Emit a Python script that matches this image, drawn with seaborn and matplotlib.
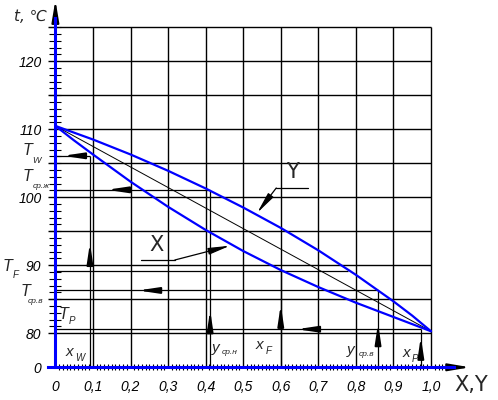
import matplotlib
matplotlib.use("Agg")
import matplotlib.pyplot as plt
from matplotlib.ticker import FixedLocator
import numpy as np
import pandas as pd
import seaborn as sns

# ------------------------- data ------------------------- #
# boiling curve X (liquid) and dew curve Y (vapour), t in degrees C
x_liq = [0.0, 0.05, 0.10, 0.20, 0.30, 0.40, 0.50, 0.60, 0.70, 0.80, 0.90, 1.0]
t_liq = [110.5, 108.35, 106.3, 102.3, 98.6, 95.2, 92.1, 89.3, 86.8, 84.5, 82.4, 80.3]

y_vap = [0.0, 0.10, 0.20, 0.30, 0.40, 0.50, 0.60, 0.70, 0.80, 0.90, 0.95, 1.0]
t_vap = [110.5, 108.5, 106.3, 103.9, 101.3, 98.5, 95.5, 92.2, 88.6, 84.7, 82.6, 80.3]

# working points: composition, temperature
x_W, T_W = 0.092, 106.1
y_srn, T_srzh = 0.412, 101.1
x_F, T_F = 0.60, 89.2
y_srv, T_srv = 0.859, 86.3
x_P, T_P = 0.973, 80.6

x_ticks = [0.0, 0.1, 0.2, 0.3, 0.4, 0.5, 0.6, 0.7, 0.8, 0.9, 1.0]
x_labels = ['0', '0,1', '0,2', '0,3', '0,4', '0,5', '0,6', '0,7', '0,8', '0,9', '1,0']
t_ticks = [75, 80, 90, 100, 110, 120]      # 75 is where the broken axis starts
t_labels = ['0', '80', '90', '100', '110', '120']
t_grid = [80, 85, 90, 95, 100, 105, 110, 115, 120, 125]

BLUE = '#0000ff'
FONT = ['Liberation Sans', 'DejaVu Sans']

# ------------------------------- figure ------------------------------------ #
sns.set_style('white')
plt.rcParams['font.family'] = FONT

fig = plt.figure(figsize=(4.98, 4.0), dpi=100)
ax = fig.add_axes([0, 0, 1, 1])

# pixel <-> data mapping of the drawing
X0, XS = 55.4, 375.6          # px of x=0, px per 1.0
Y80, YS = 333.3, 6.8          # px of t=80, px per degree


def px(xp, yp):
    return (xp - X0) / XS, 80 + (Y80 - yp) / YS


ax.set_xlim(px(0, 0)[0], px(498, 0)[0])
ax.set_ylim(px(0, 400)[1], px(0, 0)[1])

# grid
ax.hlines(t_grid, -0.02, 1.0, color='black', lw=1.0, zorder=1)
ax.vlines(x_ticks[1:], 75, 125, color='black', lw=1.0, zorder=1)

# curves
liq = pd.DataFrame({'x': x_liq, 't': t_liq})
vap = pd.DataFrame({'x': y_vap, 't': t_vap})
sns.lineplot(data=liq, x='x', y='t', color=BLUE, lw=1.6, estimator=None, ax=ax, zorder=4)
sns.lineplot(data=vap, x='x', y='t', color=BLUE, lw=1.6, estimator=None, ax=ax, zorder=4)
ax.plot([0, 1.0], [t_liq[0], t_liq[-1]], color='black', lw=0.7, zorder=3)

# working lines
ref_lw = 0.9
for xv, tv in [(x_W, T_W), (y_srn, T_srzh), (y_srv, T_srv), (x_P, T_P)]:
    ax.hlines(tv, 0, xv, color='black', lw=ref_lw, zorder=2)
    ax.vlines(xv, 75, tv, color='black', lw=ref_lw, zorder=2)
ax.hlines(T_F, 0, 0.78, color='black', lw=ref_lw, zorder=2)
ax.vlines(x_F, 75, T_F, color='black', lw=ref_lw, zorder=2)

arrow = dict(arrowstyle='-|>,head_length=1.2,head_width=0.18', color='black',
             lw=1.4, shrinkA=0, shrinkB=0, mutation_scale=10)
# arrows pointing left along temperature lines
for tv, tip in [(T_W, 0.020), (T_srzh, 0.137), (T_srv, 0.220), (T_P, 0.643)]:
    ax.annotate('', xy=(tip, tv), xytext=(tip + 0.046, tv), arrowprops=arrow, zorder=5)
# arrows pointing up along composition lines
for xv, tip in [(x_W, 93.3), (y_srn, 83.4), (x_F, 84.2), (y_srv, 81.5), (x_P, 79.5)]:
    ax.annotate('', xy=(xv, tip), xytext=(xv, tip - 2.3), arrowprops=arrow, zorder=5)

# X and Y leaders
lead = dict(arrow, arrowstyle='-|>,head_length=1.3,head_width=0.2', lw=0.9)
ax.plot([0.228, 0.318], [90.78, 90.78], color='black', lw=ref_lw)
ax.annotate('', xy=(0.465, 92.88), xytext=(0.318, 90.78), arrowprops=lead)
ax.plot([0.588, 0.672], [101.37, 101.37], color='black', lw=ref_lw)
ax.annotate('', xy=(0.537, 97.69), xytext=(0.588, 101.37), arrowprops=lead)
ax.text(*px(157, 245), 'X', fontsize=15, family='DejaVu Sans', ha='center', va='center')
ax.text(*px(292, 172), 'Y', fontsize=15, family='DejaVu Sans', ha='center', va='center')

# axes as in the drawing: blue spines with black arrow heads
for s in ['top', 'right']:
    ax.spines[s].set_visible(False)
ax.spines['left'].set_position(('data', 0))
ax.spines['bottom'].set_position(('data', 75))
ax.spines['left'].set_bounds(75, 126.4)
ax.spines['bottom'].set_bounds(-0.02, 1.06)
for s in ['left', 'bottom']:
    ax.spines[s].set_color(BLUE)
    ax.spines[s].set_linewidth(2.2)
    ax.spines[s].set_zorder(6)
ax.annotate('', xy=(0, 129.0), xytext=(0, 126.2),
            arrowprops=dict(arrow, arrowstyle='-|>,head_length=1.3,head_width=0.22'))
ax.annotate('', xy=(1.104, 75), xytext=(1.055, 75),
            arrowprops=dict(arrow, arrowstyle='-|>,head_length=1.3,head_width=0.22'))

tick_font = dict(family=FONT, style='italic', size=10)
ax.set_xticks(x_ticks, x_labels, **tick_font)
ax.set_yticks(t_ticks, t_labels, **tick_font)
ax.xaxis.set_minor_locator(FixedLocator(np.round(np.arange(0, 1.045, 0.01), 2)))
ax.yaxis.set_minor_locator(FixedLocator(np.arange(80, 126, 1)))
ax.tick_params(which='both', bottom=True, left=True, top=False, right=False)
ax.tick_params(axis='both', which='major', length=0, colors='black')
ax.tick_params(axis='x', which='major', pad=9)
ax.tick_params(axis='y', which='major', pad=10)
ax.tick_params(axis='x', which='minor', direction='inout', length=5, width=0.8, color='black')
ax.tick_params(axis='y', which='minor', direction='inout', length=8, width=0.8, color='black')
ax.set_xlabel('')
ax.set_ylabel('')

ax.text(*px(30, 17), 't, ℃', fontsize=11, style='italic', ha='center', va='center',
        family=['DejaVu Sans'])
ax.text(*px(471, 385), 'X,Y', fontsize=15, family='DejaVu Sans', ha='center', va='center')


def sym(main_xy, sub_xy, main, sub, size=12, sub_size=7):
    ax.text(*px(*main_xy), main, fontsize=size, style='italic', ha='center', va='center')
    ax.text(*px(*sub_xy), sub, fontsize=sub_size, style='italic', ha='center', va='center')


# temperature symbols on the left
sym((27, 151), (36, 160.5), 'T', 'W', size=11.5, sub_size=6.5)
sym((27, 177), (41, 187), 'T', 'ср.ж', size=11.5, sub_size=6)
sym((7, 266.5), (16, 275), 'T', 'F', size=11.5)
sym((25.5, 291.5), (36, 301.5), 'T', 'ср.в', size=11.5, sub_size=6)
sym((63, 315), (72, 321.5), 'T', 'P', size=11.5)

# composition symbols above the x axis
sym((69, 352), (80, 358), 'x', 'W', size=11)
sym((216, 348), (230, 353), 'y', 'ср.н', size=11, sub_size=6)
sym((259, 345), (268.5, 351), 'x', 'F', size=11)
sym((351, 350), (367, 355), 'y', 'ср.в', size=11, sub_size=6)
sym((406, 353), (414.5, 359), 'x', 'P', size=11)

plt.savefig('out.png', dpi=100)
